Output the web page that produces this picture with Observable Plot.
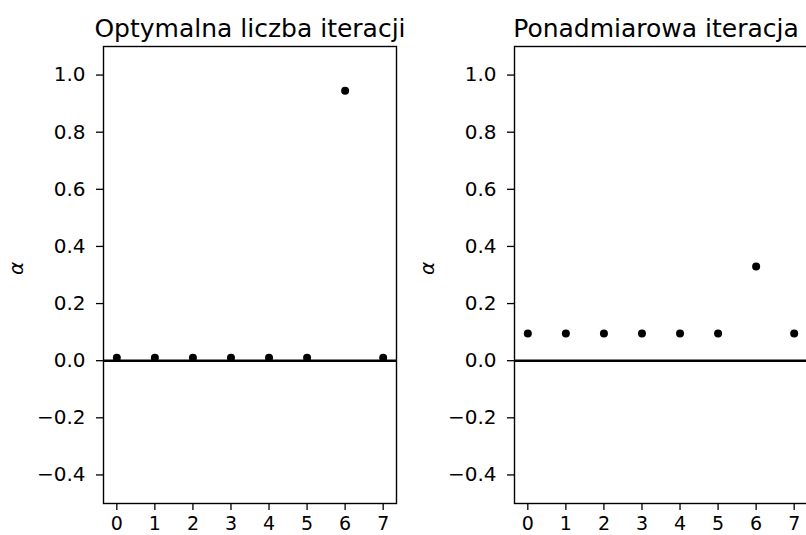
<!DOCTYPE html>
<html><head><meta charset="utf-8">
<script src="https://cdn.jsdelivr.net/npm/d3@7"></script>
<script src="https://cdn.jsdelivr.net/npm/@observablehq/plot@0.6"></script>
<style>
body{margin:0;background:#fff;}
#wrap{position:relative;width:806px;height:535px;overflow:hidden;background:#fff;}
#wrap > * {position:absolute;top:0;}
</style></head><body><div id="wrap"></div>
<script>
const iterations = [0, 1, 2, 3, 4, 5, 6, 7];
const alphaOptimal = [0.01, 0.01, 0.01, 0.01, 0.01, 0.01, 0.945, 0.01];
const alphaExcess = [0.095, 0.095, 0.095, 0.095, 0.095, 0.095, 0.33, 0.095];
const yTicks = [-0.4, -0.2, 0, 0.2, 0.4, 0.6, 0.8, 1.0];
const titles = ["Optymalna liczba iteracji", "Ponadmiarowa iteracja"];
const yLabel = "α";

function panel(values, title, titleShift) {
  const data = iterations.map((x, i) => ({x, a: values[i]}));
  return Plot.plot({
    width: 420, height: 535,
    marginLeft: 103, marginRight: 24, marginTop: 46, marginBottom: 32,
    style: {fontFamily: "DejaVu Sans", fontSize: "20px", color: "#000", background: "transparent", overflow: "visible"},
    x: {domain: [-0.35, 7.35]},
    y: {domain: [-0.5, 1.1]},
    marks: [
      Plot.axisX({ticks: iterations, tickFormat: d3.format("d"), tickSize: 7, tickPadding: 6, label: null, fontSize: 19, strokeWidth: 1.3}),
      Plot.axisY({ticks: yTicks, tickFormat: d3.format(".1f"), tickSize: 7, tickPadding: 11, label: null, fontSize: 20, strokeWidth: 1.3}),
      Plot.ruleY([0], {stroke: "#000", strokeWidth: 2.6}),
      Plot.dot(data, {x: "x", y: "a", r: 4, fill: "#000"}),
      Plot.frame({stroke: "#000", strokeWidth: 1.4}),
      Plot.text([title], {frameAnchor: "top", dy: -27, dx: titleShift, fontSize: 25, fill: "#000"}),
      Plot.text([yLabel], {frameAnchor: "left", dx: -87, rotate: -90, fontStyle: "italic", fontSize: 20, fill: "#000"})
    ]
  });
}

const wrap = document.getElementById("wrap");
const p1 = panel(alphaOptimal, titles[0], 0);
p1.style.left = "0px";
wrap.appendChild(p1);
const p2 = panel(alphaExcess, titles[1], -5);
p2.style.left = "411px";
wrap.appendChild(p2);
</script>
</body></html>
